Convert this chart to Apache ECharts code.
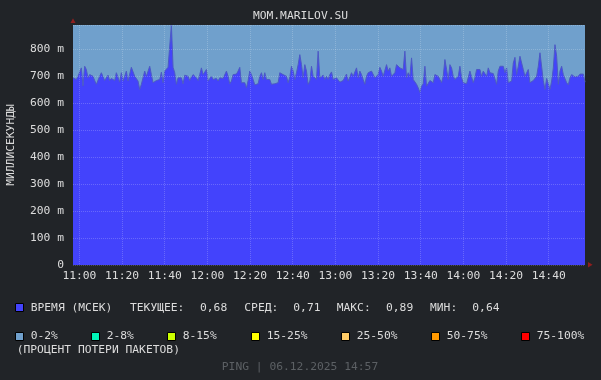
<!DOCTYPE html>
<html><head><meta charset="utf-8">
<script src="https://cdn.jsdelivr.net/npm/echarts@6/dist/echarts.min.js"></script>
<style>html,body{margin:0;padding:0;background:#212428;}#c{width:601px;height:380px;}</style>
</head><body><div id="c"></div>
<script>
// ---- data ----
const chartTitle = 'MOM.MARILOV.SU';
const dateStr = '06.12.2025';
const startTime = '10:57';
const endTime = '14:57';
const tickLabels = ['11:00','11:20','11:40','12:00','12:20','12:40','13:00','13:20','13:40','14:00','14:20','14:40'];
const yMax = 890;
const yStep = 100;
const pingMs = [
694,694,688,700,706,731,663,737,725,694,706,706,700,684,670,670,700,713,706,684,684,704,684,692,694,684,713,713,678,713,682,700,719,682,682,733,731,700,694,682,651,670,672,719,700,700,737,706,676,678,684,684,688,715,676,719,719,733,733,890,733,713,
670,694,694,694,672,704,704,700,684,697,706,700,694,684,706,731,706,700,725,682,682,700,688,688,692,682,694,694,692,688,719,700,672,682,706,708,708,719,733,676,676,676,657,684,719,706,688,668,668,672,700,713,688,713,688,682,688,670,670,672,676,676,713,706,
706,708,700,676,697,737,719,688,713,743,780,743,694,743,719,670,682,737,700,694,688,793,694,694,704,688,700,688,706,716,688,682,694,694,678,678,684,688,708,682,688,713,700,694,731,694,719,706,688,670,700,713,706,719,725,694,700,706,733,719,700,700,743,719,
731,700,694,713,743,737,731,731,725,793,694,713,700,768,688,682,670,657,640,663,672,737,663,663,684,688,676,706,704,700,688,676,700,762,725,688,743,731,700,688,684,700,737,694,676,676,672,676,719,713,676,694,725,729,725,700,719,725,700,731,713,710,710,
708,670,719,737,737,737,713,731,676,682,682,749,770,706,737,774,776,725,700,697,725,676,678,684,688,700,737,787,790,684,651,692,688,651,682,731,817,774,670,719,737,706,700,676,668,694,706,706,697,700,700,708,713,708,678
];
const seriesName = 'ВРЕМЯ (МСЕК)';
const statLabels = ['ТЕКУЩЕЕ:','СРЕД:','МАКС:','МИН:'];
const statValues = ['0,68','0,71','0,89','0,64'];
const lossLabels = ['0-2%','2-8%','8-15%','15-25%','25-50%','50-75%','75-100%'];
const lossColors = ['#70a0cc','#00f5b8','#ccff00','#ffff00','#ffcc66','#ff9900','#ff0000'];
const yAxisName = 'МИЛЛИСЕКУНДЫ';
const lossNote = '(ПРОЦЕНТ ПОТЕРИ ПАКЕТОВ)';

// ---- build ----
function ts(hm){const p=hm.split(':');return new Date(2025,11,6,+p[0],+p[1]).getTime();}
const t0 = ts(startTime), t1 = ts(endTime);
const N = pingMs.length;
const seriesData = pingMs.map((v,i)=>[t0 + (t1-t0)*i/(N-1), v]);
const tickVals = tickLabels.map(ts);
function pad(n){return (n<10?'0':'')+n;}
const FONT = 'DejaVu Sans Mono';
const FS = 11.3;
const TXT = '#dcdcdc';

const graphics = [];
function addText(x,y,text,fill){
  graphics.push({type:'text', x:x, y:y, style:{text:text, fill:fill||TXT, font:FS+'px "'+FONT+'"', textVerticalAlign:'middle', verticalAlign:'middle', textAlign:'left', align:'left'}});
}
function addSquare(x,y,color){
  graphics.push({type:'rect', shape:{x:x+0.5,y:y+0.5,width:8,height:8}, style:{fill:color, stroke:'#000', lineWidth:1}});
}
// row 1
addSquare(15,303,'#4343fc');
addText(30.7,308,seriesName);
const statLX=[130,244.3,336.7,430], statVX=[200,293.3,386,472.3];
statLabels.forEach((s,i)=>{addText(statLX[i],308,s);addText(statVX[i],308,statValues[i]);});
// row 2
const sqX=[15,91,167,251,341,431,521];
lossLabels.forEach((s,i)=>{addSquare(sqX[i],332,lossColors[i]);addText(sqX[i]+15.7,336.5,s);});
addText(16.7,350.5,lossNote);
// footer
graphics.push({type:'text', x:300, y:367.5, style:{text:'PING | '+dateStr+' '+endTime, fill:'#5c6064', font:FS+'px "'+FONT+'"', textAlign:'center', align:'center', textVerticalAlign:'middle', verticalAlign:'middle'}});
// axis arrows
graphics.push({type:'polygon', shape:{points:[[70.5,23],[75.5,23],[73,18.2]]}, style:{fill:'#8e1f1f'}});
graphics.push({type:'polygon', shape:{points:[[588,262],[588,267.5],[592.6,264.75]]}, style:{fill:'#8e1f1f'}});

const gridLine = {show:true, lineStyle:{type:'dotted', color:'rgba(255,255,255,0.2)', width:1}};
const chart = echarts.init(document.getElementById('c'), null, {renderer:'canvas', devicePixelRatio:1});
chart.setOption({
  animation:false,
  backgroundColor:'#212428',
  title:{text:chartTitle, left:'center', top:11, padding:0, textStyle:{color:TXT, fontFamily:FONT, fontSize:FS, fontWeight:'normal'}},
  grid:{left:73, right:16, top:25, bottom:115, show:true, backgroundColor:'#70a0cc', borderWidth:0, containLabel:false, outerBoundsMode:'none'},
  xAxis:{type:'value', min:t0, max:t1, z:5,
    axisLine:{show:false},
    axisTick:{show:false, customValues:tickVals},
    axisLabel:{customValues:tickVals, color:TXT, fontFamily:FONT, fontSize:FS, margin:6,
      formatter:v=>{const d=new Date(v);return pad(d.getHours())+':'+pad(d.getMinutes());}},
    splitLine:gridLine},
  yAxis:{type:'value', min:0, max:yMax, interval:yStep, z:5,
    name:yAxisName, nameLocation:'middle', nameRotate:90, nameGap:56,
    nameTextStyle:{color:TXT, fontFamily:FONT, fontSize:FS},
    axisLine:{show:false}, axisTick:{show:false},
    axisLabel:{color:TXT, fontFamily:FONT, fontSize:FS, margin:9, showMaxLabel:false,
      formatter:v=>v===0?'0':(v>=yMax?'':v+' m')},
    splitLine:gridLine},
  series:[{type:'line', name:seriesName, data:seriesData, symbol:'none', showSymbol:false, z:2,
    lineStyle:{width:1, color:'#4d5ac4'}, areaStyle:{color:'#4343fc', opacity:1}, itemStyle:{color:'#4343fc'}}],
  graphic:graphics
});
</script></body></html>
